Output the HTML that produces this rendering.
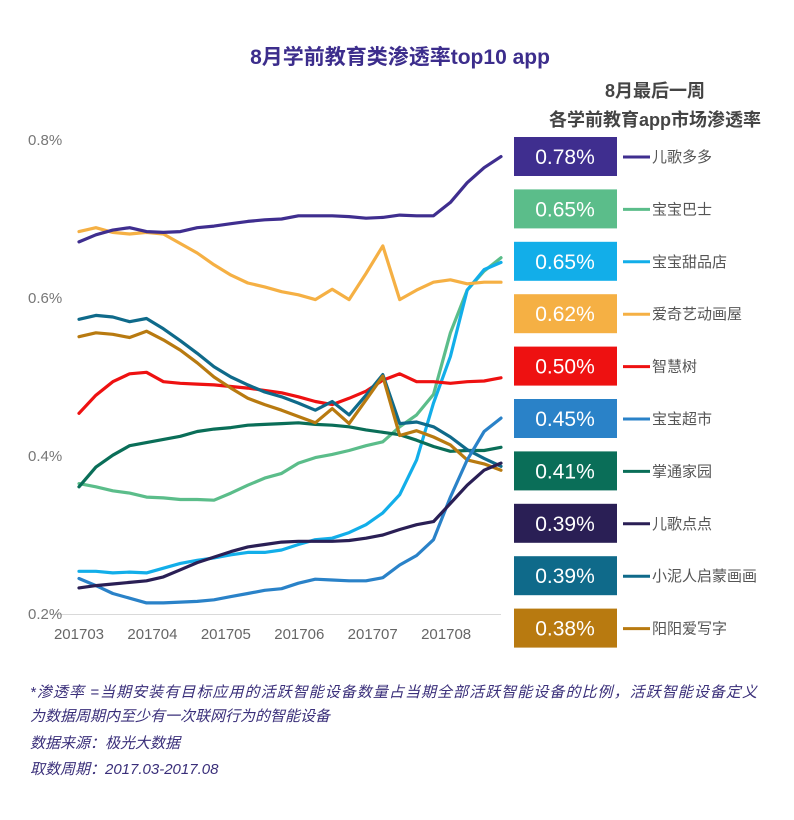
<!DOCTYPE html>
<html><head><meta charset="utf-8">
<style>
body{margin:0;background:#fff;width:794px;height:815px;overflow:hidden;font-family:"Liberation Sans","Noto Sans CJK SC",sans-serif;}
</style></head>
<body>
<svg id="chart" width="794" height="815" xmlns="http://www.w3.org/2000/svg">
<text x="400" y="64" text-anchor="middle" font-size="21" font-weight="bold" fill="#3c2d8c" font-family="Liberation Sans, Noto Sans CJK SC, sans-serif">8月学前教育类渗透率top10 app</text>
<text x="655" y="97" text-anchor="middle" font-size="18" font-weight="bold" fill="#444" font-family="Liberation Sans, Noto Sans CJK SC, sans-serif">8月最后一周</text>
<text x="655" y="126" text-anchor="middle" font-size="18" font-weight="bold" fill="#444" font-family="Liberation Sans, Noto Sans CJK SC, sans-serif">各学前教育app市场渗透率</text>
<g id="axes"></g>
<g id="lines"></g>
<g id="panel"></g>
<g font-family="Liberation Sans, Noto Sans CJK SC, sans-serif" font-style="italic" font-size="15" fill="#3a2f7a">
<text x="30" y="697" textLength="727">*渗透率 =当期安装有目标应用的活跃智能设备数量占当期全部活跃智能设备的比例，活跃智能设备定义</text>
<text x="30" y="721">为数据周期内至少有一次联网行为的智能设备</text>
<text x="30" y="748">数据来源：极光大数据</text>
<text x="30" y="774">取数周期：2017.03-2017.08</text>
</g>
</svg>
<script>
const months=["201703","201704","201705","201706","201707","201708"];
const yTicks=[0.2,0.4,0.6,0.8];
const names=["儿歌多多","宝宝巴士","宝宝甜品店","爱奇艺动画屋","智慧树","宝宝超市","掌通家园","儿歌点点","小泥人启蒙画画","阳阳爱写字"];
const lastWeek=["0.78%","0.65%","0.65%","0.62%","0.50%","0.45%","0.41%","0.39%","0.39%","0.38%"];
const colors=["#3f2e8f","#5bbd8a","#12aee9","#f5b044","#ee1111","#2a82c8","#0a6e58","#2a1f55","#0f6a8a","#b87a10"];
const s_erge=[0.671,0.680,0.686,0.689,0.684,0.683,0.684,0.689,0.691,0.694,0.697,0.699,0.700,0.704,0.704,0.704,0.703,0.701,0.702,0.705,0.704,0.704,0.721,0.746,0.765,0.779];
const s_bus=[0.365,0.361,0.356,0.353,0.348,0.347,0.345,0.345,0.344,0.353,0.363,0.372,0.378,0.391,0.398,0.402,0.407,0.413,0.418,0.437,0.452,0.478,0.556,0.610,0.634,0.651];
const s_dessert=[0.254,0.254,0.252,0.253,0.252,0.258,0.264,0.268,0.271,0.275,0.278,0.278,0.281,0.288,0.294,0.296,0.303,0.313,0.328,0.351,0.395,0.467,0.526,0.610,0.636,0.645];
const s_iqiyi=[0.684,0.689,0.683,0.681,0.683,0.681,0.669,0.657,0.642,0.629,0.619,0.614,0.608,0.604,0.598,0.611,0.598,0.631,0.666,0.598,0.610,0.620,0.623,0.618,0.620,0.620];
const s_tree=[0.454,0.477,0.494,0.504,0.506,0.494,0.492,0.491,0.490,0.488,0.486,0.483,0.480,0.475,0.469,0.465,0.473,0.482,0.496,0.504,0.494,0.494,0.492,0.494,0.495,0.499];
const s_market=[0.245,0.236,0.226,0.220,0.214,0.214,0.215,0.216,0.218,0.222,0.226,0.230,0.232,0.239,0.244,0.243,0.242,0.242,0.246,0.262,0.274,0.294,0.348,0.395,0.431,0.448];
const s_home=[0.361,0.386,0.401,0.413,0.417,0.421,0.425,0.431,0.434,0.436,0.439,0.440,0.441,0.442,0.440,0.439,0.437,0.433,0.430,0.427,0.420,0.412,0.406,0.407,0.407,0.411];
const s_diandian=[0.233,0.236,0.238,0.240,0.242,0.247,0.256,0.265,0.272,0.279,0.285,0.288,0.291,0.292,0.292,0.292,0.293,0.296,0.300,0.307,0.313,0.317,0.340,0.363,0.382,0.391];
const s_clay=[0.573,0.578,0.576,0.570,0.574,0.561,0.546,0.530,0.513,0.500,0.490,0.481,0.475,0.467,0.458,0.469,0.452,0.477,0.503,0.441,0.443,0.437,0.424,0.408,0.397,0.387];
const s_write=[0.551,0.556,0.554,0.550,0.558,0.547,0.534,0.518,0.500,0.486,0.473,0.465,0.458,0.450,0.442,0.460,0.441,0.471,0.501,0.426,0.432,0.424,0.414,0.395,0.390,0.382];
const series=[s_erge,s_bus,s_dessert,s_iqiyi,s_tree,s_market,s_home,s_diandian,s_clay,s_write];
const drawOrder=[1,2,6,4,8,9,5,7,3,0];
const NS="http://www.w3.org/2000/svg";
const x0=79,x1=501,n=s_erge.length;
function xs(i){return x0+i*(x1-x0)/(n-1);}
function ys(v){return 614-(v-0.2)*790;}
function mk(tag,attrs,parent){const e=document.createElementNS(NS,tag);for(const k in attrs)e.setAttribute(k,attrs[k]);parent.appendChild(e);return e;}
const axes=document.getElementById('axes');
let g=mk('line',{x1:50,x2:501,y1:614.5,y2:614.5,stroke:'#d9d9d9','stroke-width':1},axes);


yTicks.forEach(t=>{const e=mk('text',{x:28,y:ys(t)+5,'font-size':15,fill:'#777','font-family':'Liberation Sans, sans-serif'},axes);e.textContent=t.toFixed(1)+'%';

});
months.forEach((m,i)=>{const e=mk('text',{x:xs(i*4.35),y:639,'text-anchor':'middle','font-size':15,fill:'#666','font-family':'Liberation Sans, sans-serif'},axes);e.textContent=m;

});
const lines=document.getElementById('lines');
drawOrder.forEach(k=>{const d=series[k].map((v,i)=>(i?'L':'M')+xs(i).toFixed(1)+' '+ys(v).toFixed(1)).join(' ');
const p=mk('path',{d:d,fill:'none',stroke:colors[k],'stroke-width':3.2,'stroke-linejoin':'round','stroke-linecap':'round'},lines);

});
const panel=document.getElementById('panel');
names.forEach((nm,k)=>{const y=137+k*52.4;
const r=mk('rect',{x:514,y:y,width:103,height:39,fill:colors[k]},panel);


const t=mk('text',{x:565,y:y+27,'text-anchor':'middle','font-size':21,fill:'#fff','font-family':'Liberation Sans, sans-serif'},panel);t.textContent=lastWeek[k];


const l=mk('line',{x1:623,x2:650,y1:y+20,y2:y+20,stroke:colors[k],'stroke-width':3},panel);


const lt=mk('text',{x:652,y:y+25,'font-size':15,fill:'#555','font-family':'Liberation Sans, Noto Sans CJK SC, sans-serif'},panel);lt.textContent=nm;

});
</script>
</body></html>
